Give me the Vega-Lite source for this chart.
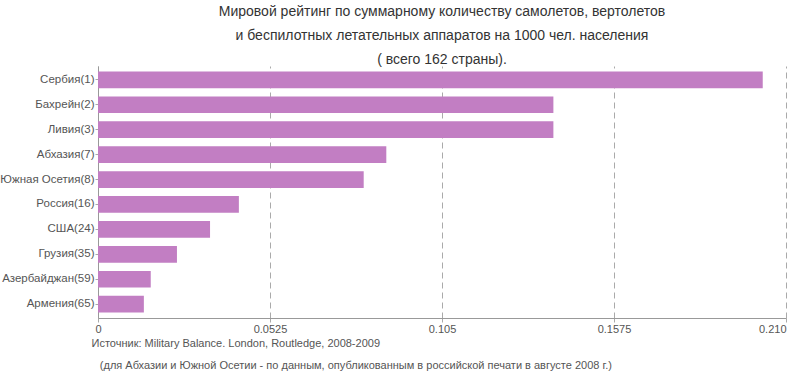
{
  "$schema": "https://vega.github.io/schema/vega-lite/v6.json",
  "width": 688,
  "height": 252,
  "autosize": {"type": "none"},
  "padding": {"left": 98, "top": 66, "right": 14, "bottom": 57},
  "background": "white",
  "title": {
    "text": ["Мировой рейтинг по суммарному количеству самолетов, вертолетов", "и беспилотных летательных аппаратов на 1000 чел. населения", "( всего 162 страны)."],
    "anchor": "middle",
    "frame": "group",
    "font": "Liberation Sans",
    "fontSize": 14,
    "fontWeight": "normal",
    "color": "#333333",
    "lineHeight": 24,
    "offset": -1
  },
  "data": {
    "values": [
      {"country": "Сербия(1)", "value": 0.2029},
      {"country": "Бахрейн(2)", "value": 0.1390},
      {"country": "Ливия(3)", "value": 0.1390},
      {"country": "Абхазия(7)", "value": 0.0880},
      {"country": "Южная Осетия(8)", "value": 0.0811},
      {"country": "Россия(16)", "value": 0.0430},
      {"country": "США(24)", "value": 0.0342},
      {"country": "Грузия(35)", "value": 0.0241},
      {"country": "Азербайджан(59)", "value": 0.0161},
      {"country": "Армения(65)", "value": 0.0140}
    ]
  },
  "mark": {"type": "bar", "color": "#c27ec3"},
  "encoding": {
    "y": {
      "field": "country",
      "type": "nominal",
      "sort": null,
      "scale": {"paddingInner": 0.33, "paddingOuter": 0.22},
      "axis": {
        "title": null,
        "labelFont": "Liberation Sans",
        "labelFontSize": 11.5,
        "labelColor": "#555555",
        "labelPadding": 1,
        "tickSize": 3,
        "tickColor": "#aaaaaa",
        "domainColor": "#999999",
        "grid": false
      }
    },
    "x": {
      "field": "value",
      "type": "quantitative",
      "scale": {"domain": [0, 0.21], "nice": false},
      "axis": {
        "values": [0, 0.0525, 0.105, 0.1575, 0.21],
        "labelExpr": "datum.value >= 0.2 ? '0.210' : (datum.value == 0 ? '0' : format(datum.value, '.4~f'))",
        "labelFlush": false,
        "labelAlign": {"expr": "datum.value >= 0.2 ? 'right' : 'center'"},
        "labelFont": "Liberation Sans",
        "labelFontSize": 11,
        "labelColor": "#555555",
        "labelPadding": 1,
        "tickSize": 4,
        "tickColor": "#aaaaaa",
        "domainColor": "#999999",
        "grid": true,
        "gridColor": "#aaaaaa",
        "gridDash": [6, 4],
        "gridWidth": 1,
        "title": ["Источник: Military Balance. London, Routledge, 2008-2009", "\u200b\u2007\u2009(для Абхазии и Южной Осетии - по данным, опубликованным в российской печати в августе 2008 г.)"],
        "titleAnchor": "start",
        "titleAlign": "left",
        "titleX": -7,
        "titleY": 19,
        "titleBaseline": "top",
        "titleFont": "Liberation Sans",
        "titleFontSize": 11,
        "titleFontWeight": "normal",
        "titleColor": "#555555",
        "titleLineHeight": 22
      }
    }
  },
  "config": {"view": {"stroke": null}}
}
